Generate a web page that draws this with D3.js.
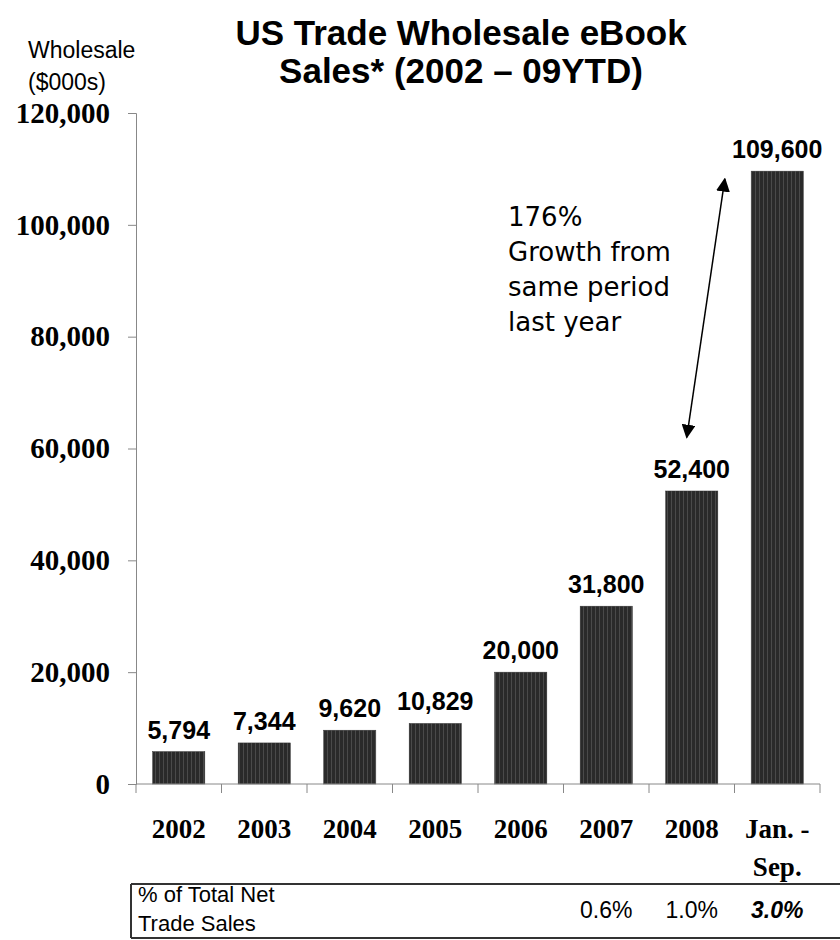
<!DOCTYPE html>
<html>
<head>
<meta charset="utf-8">
<script src="https://cdn.jsdelivr.net/npm/d3@7"></script>
<style>
  body { margin: 0; background: #fff; }
</style>
</head>
<body>
<div id="wrapper"></div>
<script>
// data
const categories = ["2002", "2003", "2004", "2005", "2006", "2007", "2008", "Jan. - Sep."];
const sales = [5794, 7344, 9620, 10829, 20000, 31800, 52400, 109600];
const salesLabels = ["5,794", "7,344", "9,620", "10,829", "20,000", "31,800", "52,400", "109,600"];
const pctOfTrade = ["", "", "", "", "", "0.6%", "1.0%", "3.0%"];
const yTicks = [0, 20000, 40000, 60000, 80000, 100000, 120000];
const annotationLines = ["176%", "Growth from", "same period", "last year"];

const width = 840, height = 940;
const margin = { top: 113, left: 136, right: 20, bottom: 156 };

const svg = d3.select("#wrapper").append("svg")
    .attr("width", width)
    .attr("height", height);

// bar texture: dark fill with thin vertical stripes
const defs = svg.append("defs");
const pat = defs.append("pattern")
    .attr("id", "stripes")
    .attr("patternUnits", "userSpaceOnUse")
    .attr("width", 4).attr("height", 4);
pat.append("rect").attr("width", 4).attr("height", 4).attr("fill", "#2a2a2a");
pat.append("rect").attr("x", 3).attr("width", 1).attr("height", 4).attr("fill", "#4a4a4a");

const xScale = d3.scaleBand()
    .domain(categories)
    .range([margin.left, 820])
    .paddingInner(0.39)
    .paddingOuter(0.195);

const yScale = d3.scaleLinear()
    .domain([0, 120000])
    .range([784, margin.top]);

// title
svg.append("text")
    .attr("x", 461).attr("y", 45)
    .attr("text-anchor", "middle")
    .style("font-family", "Liberation Sans, Arial, sans-serif")
    .style("font-weight", "bold")
    .style("font-size", "35px")
    .selectAll("tspan")
    .data(["US Trade Wholesale eBook", "Sales* (2002 \u2013 09YTD)"])
    .join("tspan")
    .attr("x", 461)
    .attr("dy", (d, i) => i ? 38 : 0)
    .text(d => d);

// y unit label
svg.append("text")
    .attr("x", 28).attr("y", 58)
    .style("font-family", "Liberation Sans, Arial, sans-serif")
    .style("font-size", "23px")
    .selectAll("tspan")
    .data(["Wholesale", "($000s)"])
    .join("tspan")
    .attr("x", 28)
    .attr("dy", (d, i) => i ? 32 : 0)
    .text(d => d);

// y axis
const yAxis = svg.append("g")
    .attr("transform", `translate(${margin.left},0)`)
    .call(d3.axisLeft(yScale).tickValues(yTicks).tickSize(8).tickPadding(18)
        .tickFormat(d3.format(",")));
yAxis.select(".domain").attr("stroke", "#888");
yAxis.selectAll(".tick line").attr("stroke", "#888");
yAxis.selectAll(".tick text")
    .style("font-family", "Liberation Serif, Times New Roman, serif")
    .style("font-weight", "bold")
    .style("font-size", "29px")
    .attr("fill", "#000");

// bars
svg.append("g")
    .selectAll("rect")
    .data(sales)
    .join("rect")
    .attr("x", (d, i) => xScale(categories[i]))
    .attr("y", d => yScale(d))
    .attr("width", xScale.bandwidth())
    .attr("height", d => yScale(0) - yScale(d))
    .attr("fill", "url(#stripes)")
    .attr("stroke", "#333")
    .attr("stroke-width", 0.5);

// value labels
svg.append("g")
    .selectAll("text")
    .data(sales)
    .join("text")
    .attr("x", (d, i) => xScale(categories[i]) + xScale.bandwidth() / 2)
    .attr("y", d => yScale(d) - 13)
    .attr("text-anchor", "middle")
    .style("font-family", "Liberation Sans, Arial, sans-serif")
    .style("font-weight", "bold")
    .style("font-size", "25px")
    .text((d, i) => salesLabels[i]);

// x axis line and ticks between categories
const step = xScale.step();
const xAxis = svg.append("g");
xAxis.append("line")
    .attr("x1", margin.left).attr("x2", 820)
    .attr("y1", yScale(0)).attr("y2", yScale(0))
    .attr("stroke", "#888");
xAxis.selectAll("line.tick")
    .data(d3.range(categories.length + 1))
    .join("line")
    .attr("class", "tick")
    .attr("x1", i => margin.left + i * step)
    .attr("x2", i => margin.left + i * step)
    .attr("y1", yScale(0)).attr("y2", yScale(0) + 9)
    .attr("stroke", "#888");

// category labels
xAxis.selectAll("text")
    .data(categories)
    .join("text")
    .attr("y", 838)
    .attr("text-anchor", "middle")
    .style("font-family", "Liberation Serif, Times New Roman, serif")
    .style("font-weight", "bold")
    .style("font-size", "27px")
    .each(function (d) {
        const cx = xScale(d) + xScale.bandwidth() / 2;
        const parts = d === "Jan. - Sep." ? ["Jan. -", "Sep."] : [d];
        d3.select(this).selectAll("tspan")
            .data(parts)
            .join("tspan")
            .attr("x", cx)
            .attr("dy", (p, i) => i ? 38 : 0)
            .text(p => p);
    });

// growth annotation
svg.append("text")
    .attr("x", 508).attr("y", 226)
    .style("font-family", "DejaVu Sans, Arial, sans-serif")
    .style("font-size", "26px")
    .selectAll("tspan")
    .data(annotationLines)
    .join("tspan")
    .attr("x", 508)
    .attr("dy", (d, i) => i ? 35 : 0)
    .text(d => d);

defs.append("marker")
    .attr("id", "arrow")
    .attr("viewBox", "0 0 10 10")
    .attr("refX", 9).attr("refY", 5)
    .attr("markerWidth", 14).attr("markerHeight", 14)
    .attr("markerUnits", "userSpaceOnUse")
    .attr("orient", "auto-start-reverse")
    .append("path")
    .attr("d", "M0,0L10,5L0,10Z")
    .attr("fill", "#000");

const arrowX1 = xScale("2008") + xScale.bandwidth() / 2 - 5;
const arrowX2 = xScale("2008") + xScale.bandwidth() + 7;
svg.append("line")
    .attr("x1", arrowX1).attr("y1", yScale(62000))
    .attr("x2", arrowX2).attr("y2", yScale(108200))
    .attr("stroke", "#000")
    .attr("stroke-width", 1.5)
    .attr("marker-start", "url(#arrow)")
    .attr("marker-end", "url(#arrow)");

// table row below the chart
const table = svg.append("g");
table.append("line").attr("x1", 131).attr("x2", 840).attr("y1", 884).attr("y2", 884)
    .attr("stroke", "#333").attr("stroke-width", 2);
table.append("line").attr("x1", 131).attr("x2", 840).attr("y1", 938).attr("y2", 938)
    .attr("stroke", "#333").attr("stroke-width", 2);
table.append("line").attr("x1", 131).attr("x2", 131).attr("y1", 884).attr("y2", 938)
    .attr("stroke", "#333").attr("stroke-width", 2);

table.append("text")
    .attr("x", 138).attr("y", 902)
    .style("font-family", "Liberation Sans, Arial, sans-serif")
    .style("font-size", "22px")
    .selectAll("tspan")
    .data(["% of Total Net", "Trade Sales"])
    .join("tspan")
    .attr("x", 138)
    .attr("dy", (d, i) => i ? 29 : 0)
    .text(d => d);

table.selectAll("text.pct")
    .data(pctOfTrade)
    .join("text")
    .attr("class", "pct")
    .attr("x", (d, i) => xScale(categories[i]) + xScale.bandwidth() / 2)
    .attr("y", 918)
    .attr("text-anchor", "middle")
    .style("font-family", "Liberation Sans, Arial, sans-serif")
    .style("font-size", "23px")
    .style("font-weight", (d, i) => i === pctOfTrade.length - 1 ? "bold" : "normal")
    .style("font-style", (d, i) => i === pctOfTrade.length - 1 ? "italic" : "normal")
    .text(d => d);
</script>
</body>
</html>
